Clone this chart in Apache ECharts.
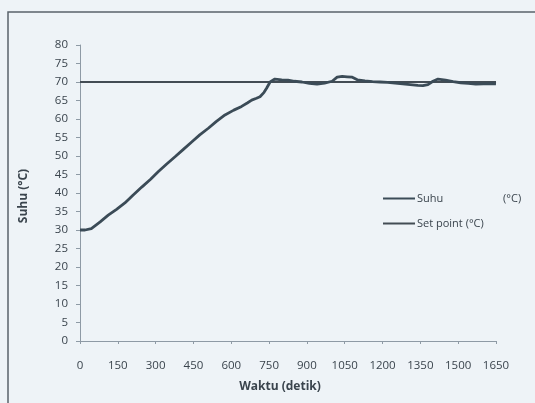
<!DOCTYPE html>
<html>
<head>
<meta charset="utf-8">
<script src="https://cdn.jsdelivr.net/npm/echarts@6/dist/echarts.min.js"></script>
<style>
html,body{margin:0;padding:0;background:#eef3f7;}
#c{width:535px;height:403px;}
</style>
</head>
<body>
<div id="c"></div>
<script>
var times = [0,20,45,80,112,145,178,210,245,280,311,345,377,410,443,475,509,540,575,610,641,665,681,700,714,730,740,754,773,800,825,850,880,910,940,970,1000,1020,1040,1060,1080,1100,1130,1160,1190,1220,1250,1280,1310,1340,1360,1380,1400,1420,1450,1480,1510,1540,1570,1600,1630,1650];
var suhu = [30,30,30.4,32.2,34,35.6,37.3,39.4,41.6,43.7,45.8,47.9,49.8,51.8,53.8,55.7,57.5,59.3,61.1,62.4,63.4,64.4,65.1,65.6,66,67.2,68.3,70,70.8,70.6,70.5,70.2,70,69.6,69.4,69.7,70.2,71.3,71.5,71.4,71.3,70.6,70.3,70.1,70,69.9,69.7,69.5,69.3,69.1,69,69.3,70.2,70.8,70.5,70.1,69.8,69.6,69.4,69.5,69.6,69.5];
var setTimes = [0,1650];
var setPoint = [70,70];
var xTicks = [0,150,300,450,600,750,900,1050,1200,1350,1500,1650];
var yTicks = [0,5,10,15,20,25,30,35,40,45,50,55,60,65,70,75,80];
var seriesNames = ['Suhu', 'Set point (°C)'];

var txt = '#3a444d';
var font = 'Open Sans';
var chart = echarts.init(document.getElementById('c'), null, {renderer:'canvas'});
chart.setOption({
  backgroundColor: '#eef3f7',
  animation: false,
  grid: {left: 80, right: 39, top: 45, bottom: 62},
  xAxis: {
    type: 'value', min: xTicks[0], max: xTicks[xTicks.length-1], interval: 150,
    axisLine: {lineStyle: {color: '#8e9aa5', width: 1}},
    axisTick: {length: 3, lineStyle: {color: '#8e9aa5'}},
    axisLabel: {color: txt, fontFamily: font, fontSize: 11.5, margin: 19, formatter: function(v){return String(v);}},
    splitLine: {show: false}
  },
  yAxis: {
    type: 'value', min: yTicks[0], max: yTicks[yTicks.length-1], interval: 5,
    axisLine: {show: true, lineStyle: {color: '#8e9aa5', width: 1}},
    axisTick: {show: true, length: 4, lineStyle: {color: '#8e9aa5'}},
    axisLabel: {color: txt, fontFamily: font, fontSize: 11.5, margin: 12},
    splitLine: {show: false}
  },
  legend: {
    orient: 'vertical', left: 378, top: 188, itemWidth: 32, itemHeight: 2, itemGap: 14,
    icon: 'rect',
    data: seriesNames,
    formatter: function(n){ return n === seriesNames[0] ? '{a|Suhu}{b|(°C)}' : n; },
    textStyle: {color: txt, fontFamily: font, fontSize: 11, padding: [0,0,0,-3],
      rich: {a: {width: 86, color: txt, fontFamily: font, fontSize: 11}, b: {color: txt, fontFamily: font, fontSize: 11}}}
  },
  graphic: [
    {type: 'rect', shape: {x: 8, y: 12, width: 600, height: 500}, style: {fill: 'none', stroke: '#5a636b', lineWidth: 1.5}, silent: true},
    {type: 'text', x: 24, y: 196, rotation: Math.PI/2, style: {text: 'Suhu (°C)', font: 'bold 12px "Open Sans"', fill: txt, textAlign: 'center', textVerticalAlign: 'middle'}},
    {type: 'text', x: 280, y: 387, style: {text: 'Waktu (detik)', font: 'bold 12px "Open Sans"', fill: txt, textAlign: 'center', textVerticalAlign: 'middle'}}
  ],
  series: [
    {name: seriesNames[0], type: 'line', symbol: 'none', smooth: false,
     data: times.map(function(t,i){return [t, suhu[i]];}),
     lineStyle: {color: '#3b4b57', width: 2.8}, itemStyle: {color: '#3b4b57'}, z: 3},
    {name: seriesNames[1], type: 'line', symbol: 'none',
     data: setTimes.map(function(t,i){return [t, setPoint[i]];}),
     lineStyle: {color: '#434c54', width: 2.2}, itemStyle: {color: '#434c54'}, z: 2}
  ]
});
</script>
</body>
</html>
